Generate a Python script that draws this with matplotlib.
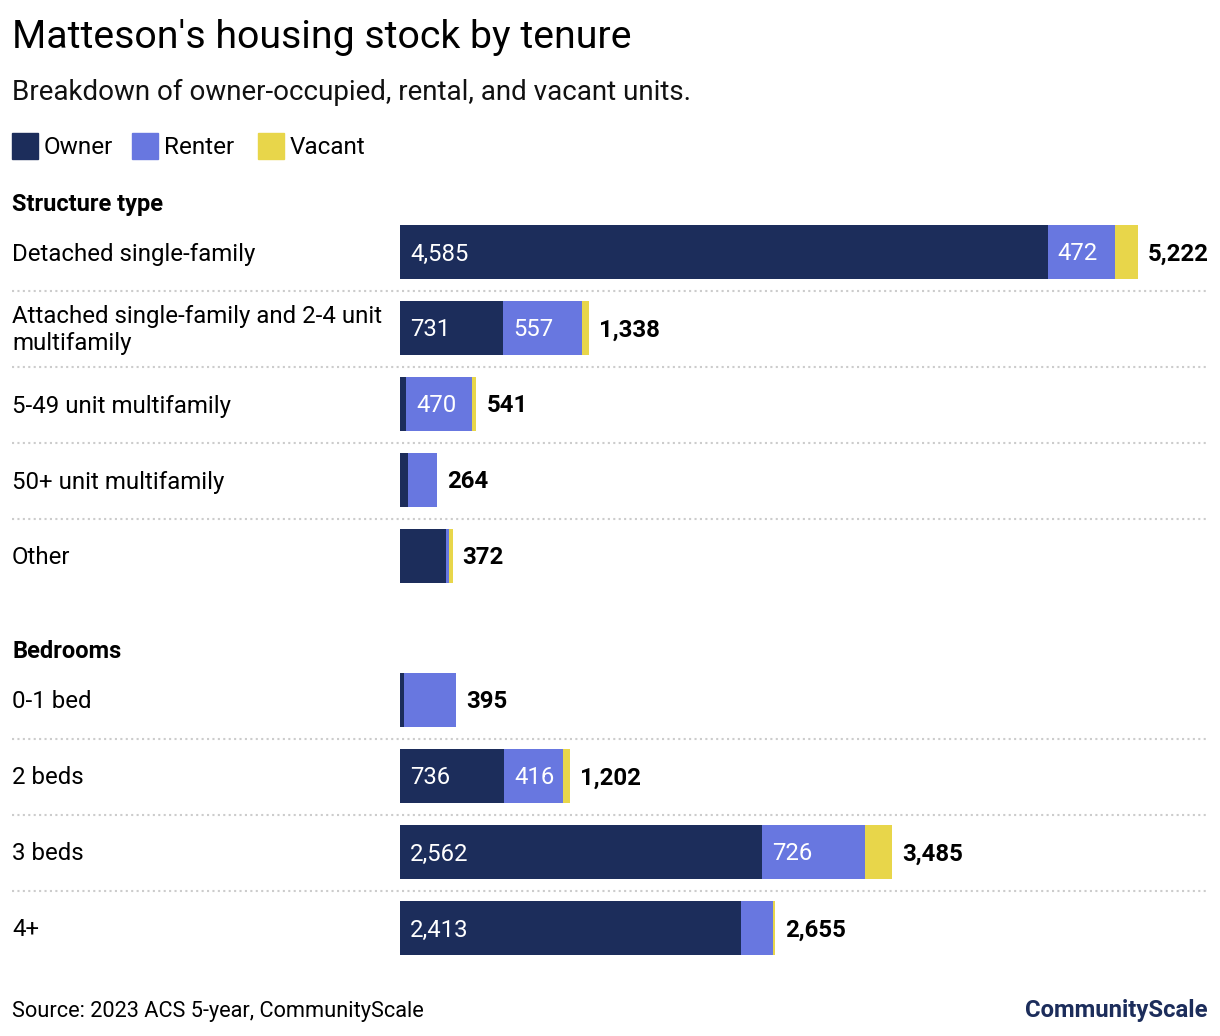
import matplotlib
matplotlib.use("Agg")
import matplotlib.pyplot as plt
from matplotlib.patches import Rectangle

plt.rcParams['font.family'] = ['Roboto', 'DejaVu Sans']

# data
structure_labels = ["Detached single-family", "Attached single-family and 2-4 unit\nmultifamily",
                    "5-49 unit multifamily", "50+ unit multifamily", "Other"]
structure_owner = [4585, 731, 42, 57, 326]
structure_renter = [472, 557, 470, 207, 18]
structure_vacant = [165, 50, 29, 0, 28]

bedroom_labels = ["0-1 bed", "2 beds", "3 beds", "4+"]
bedroom_owner = [28, 736, 2562, 2413]
bedroom_renter = [367, 416, 726, 227]
bedroom_vacant = [0, 50, 197, 15]

series_names = ["Owner", "Renter", "Vacant"]
colors = ["#1c2d5b", "#6877e0", "#e8d64a"]

W, H = 1220, 1036
fig = plt.figure(figsize=(W / 100, H / 100), dpi=100)
ax = fig.add_axes([0, 0, 1, 1])
ax.axis("off")

# pixel layout: bars start at x=400, 0.1413 px per unit
s = 0.1413
x0 = 400
ax.set_xlim(-x0 / s, (W - x0) / s)
ax.set_ylim(H, 0)

def px(p):
    return (p - x0) / s

row_h = 76
bar_h = 54
dy = 2  # text nudge down

def draw_group(header, header_y, first_y, labels, owner, renter, vacant):
    ax.text(px(12), header_y + dy, header, fontsize=17, fontweight="bold", va="center", ha="left")
    ys = [first_y + i * row_h for i in range(len(labels))]
    left = [0] * len(labels)
    for vals, c in zip([owner, renter, vacant], colors):
        ax.barh(ys, vals, left=left, height=bar_h, color=c, linewidth=0)
        for y, v, l in zip(ys, vals, left):
            if v >= 400:
                ax.text(l + 10 / s, y + dy, f"{v:,}", color="white", fontsize=17.2,
                        va="center", ha="left")
        left = [a + b for a, b in zip(left, vals)]
    for y, t, lab in zip(ys, left, labels):
        ax.text(t + 10 / s, y + dy, f"{t:,}", fontsize=17.3, fontweight="bold",
                va="center", ha="left")
        ax.text(px(12), y + dy, lab, fontsize=17.3, va="center", ha="left", linespacing=1.2)
    for y in ys[:-1]:
        ax.plot([px(12), px(1208)], [y + row_h / 2 + 1] * 2, color="#cccccc",
                lw=1.5, linestyle=(0, (1, 1.6)))

draw_group("Structure type", 202, 252, structure_labels,
           structure_owner, structure_renter, structure_vacant)
draw_group("Bedrooms", 650, 700, bedroom_labels,
           bedroom_owner, bedroom_renter, bedroom_vacant)

# title / subtitle
fig.text(12 / W, 1 - 37 / H, "Matteson's housing stock by tenure", fontsize=28.3,
         va="center", ha="left")
fig.text(12 / W, 1 - 92 / H, "Breakdown of owner-occupied, rental, and vacant units.",
         fontsize=20, va="center", ha="left", color="#111111")

# legend
lx = [12, 132, 258]
for x, name, c in zip(lx, series_names, colors):
    fig.patches.append(Rectangle((x / W, 1 - 159 / H), 26 / W, 26 / H,
                                 transform=fig.transFigure, color=c))
    fig.text((x + 32) / W, 1 - 147 / H, name, fontsize=17.5, va="center", ha="left")

# footer
fig.text(12 / W, 1 - 1011 / H, "Source: 2023 ACS 5-year, CommunityScale", fontsize=15.7,
         va="center", ha="left")
fig.text(1208 / W, 1 - 1011 / H, "CommunityScale", fontsize=17.2, fontweight="bold",
         color="#1c2d5b", va="center", ha="right")

fig.savefig("out.png", dpi=100)
